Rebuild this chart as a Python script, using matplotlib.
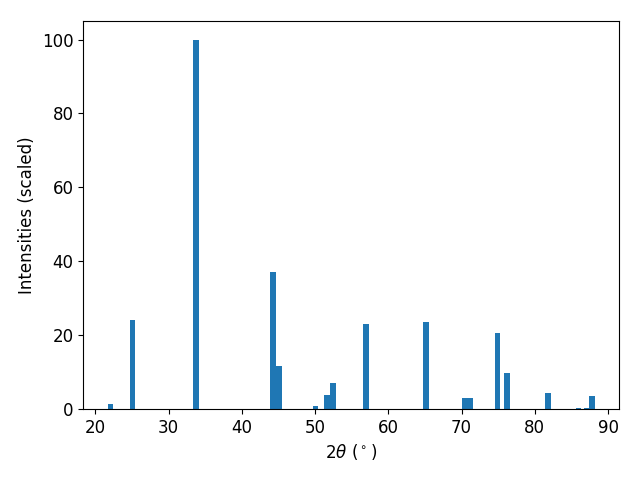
import matplotlib
matplotlib.use("Agg")
import matplotlib.pyplot as plt

# peak positions (2theta, degrees) and scaled intensities
two_theta = [22.05, 25.05, 33.72, 44.3, 45.1, 50.05, 51.6, 52.4, 56.9,
             65.2, 70.4, 71.1, 74.9, 76.15, 81.75, 85.98, 87.15, 87.76]
intensity = [1.4, 24.2, 100.0, 37.0, 11.7, 0.8, 3.8, 7.0, 23.1,
             23.5, 3.0, 3.0, 20.6, 9.8, 4.3, 0.3, 0.3, 3.5]

plt.rcParams['font.size'] = 12

fig, ax = plt.subplots(figsize=(6.4, 4.8), dpi=100)
ax.bar(two_theta, intensity, width=0.8, color="tab:blue")
ax.set_xlabel(r"$2\theta$ ($^\circ$)")
ax.set_ylabel("Intensities (scaled)")
fig.subplots_adjust(left=0.130, right=0.967, top=0.956, bottom=0.148)
fig.savefig("out.png")
